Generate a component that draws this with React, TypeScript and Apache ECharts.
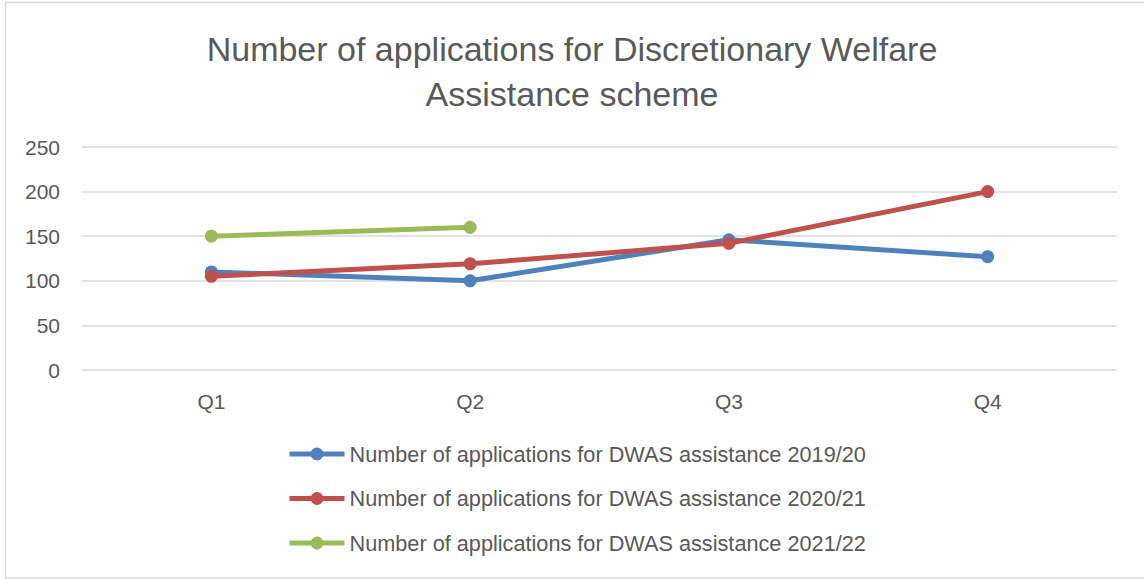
import React, { useEffect, useRef } from "react";
import * as echarts from "echarts";

const categories = ["Q1", "Q2", "Q3", "Q4"];
const series1920 = [110, 100, 146, 127];
const series2021 = [105, 119, 142, 200];
const series2122 = [150, 160, null, null];
const seriesNames = [
  "Number of applications for DWAS assistance 2019/20",
  "Number of applications for DWAS assistance 2020/21",
  "Number of applications for DWAS assistance 2021/22",
];
const colors = ["#4f81bd", "#c0504d", "#9bbb59"];
const titleText = "Number of applications for Discretionary Welfare\nAssistance scheme";

const FONT = "'Liberation Sans', Arial, sans-serif";

export default function App() {
  const ref = useRef<HTMLDivElement>(null);
  useEffect(() => {
    document.body.style.margin = "0";
    const chart = echarts.init(ref.current!, null, { renderer: "svg" });
    const values = [series1920, series2021, series2122];
    chart.setOption({
      animation: false,
      backgroundColor: "#ffffff",
      textStyle: { fontFamily: FONT },
      title: {
        text: titleText,
        left: "center",
        top: 21,
        textStyle: {
          fontFamily: FONT,
          fontSize: 34,
          fontWeight: "normal",
          color: "#595959",
          lineHeight: 45,
        },
      },
      graphic: [
        {
          type: "rect",
          shape: { x: 5.5, y: 2.5, width: 1150, height: 575.5 },
          style: { fill: "none", stroke: "#d9d9d9", lineWidth: 1.5 },
          silent: true,
          z: -1,
        },
      ],
      grid: { left: 82, right: 27, top: 147, bottom: 210 },
      xAxis: {
        type: "category",
        data: categories,
        boundaryGap: true,
        axisLine: { show: false },
        axisTick: { show: false },
        axisLabel: { color: "#595959", fontSize: 21, margin: 21, fontFamily: FONT },
      },
      yAxis: {
        type: "value",
        min: 0,
        max: 250,
        interval: 50,
        axisLine: { show: false },
        axisTick: { show: false },
        axisLabel: { color: "#595959", fontSize: 21, margin: 22, fontFamily: FONT },
        splitLine: { lineStyle: { color: "#d9d9d9", width: 1.5 } },
      },
      legend: {
        orient: "vertical",
        left: 282,
        top: 438,
        itemWidth: 55,
        itemHeight: 16,
        itemGap: 22.5,
        lineStyle: { width: 5 },
        textStyle: { color: "#595959", fontSize: 21.7, lineHeight: 22, fontFamily: FONT },
        data: seriesNames,
      },
      series: seriesNames.map((name, i) => ({
        name,
        type: "line",
        data: values[i],
        color: colors[i],
        symbol: "circle",
        symbolSize: 13,
        lineStyle: { width: 5, color: colors[i] },
        itemStyle: { color: colors[i] },
        connectNulls: false,
      })),
    });
    return () => chart.dispose();
  }, []);
  return <div ref={ref} style={{ position: "absolute", left: 0, top: 0, width: 1144, height: 580 }} />;
}
